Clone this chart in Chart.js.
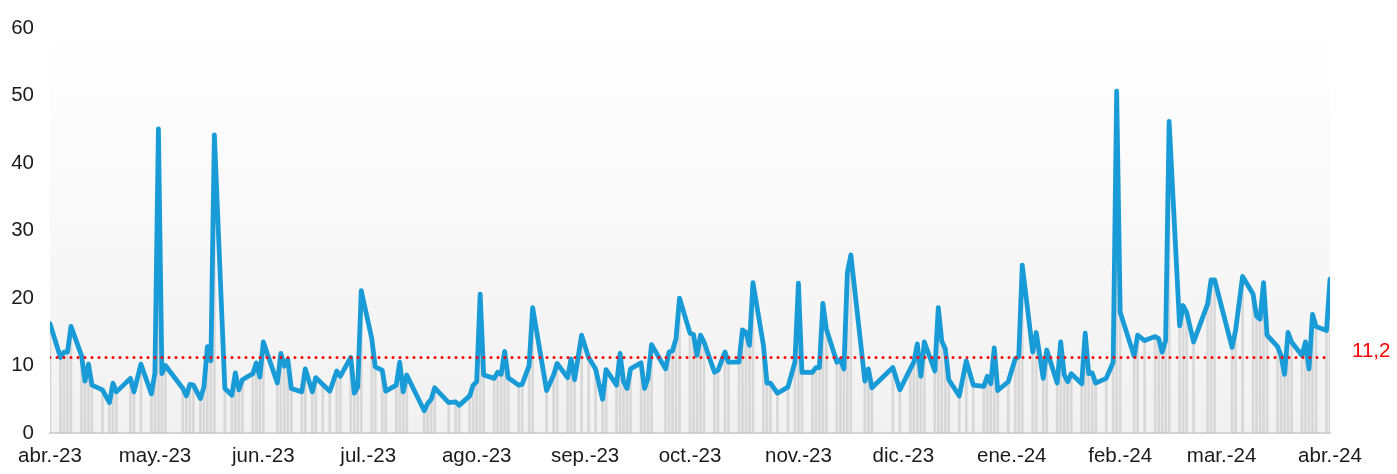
<!DOCTYPE html>
<html>
<head>
<meta charset="utf-8">
<script src="https://cdn.jsdelivr.net/npm/chart.js@4.4.1/dist/chart.umd.min.js"></script>
<style>
  html, body { margin: 0; padding: 0; background: #fff; }
  #wrap { width: 1397px; height: 474px; }
</style>
</head>
<body>
<div id="wrap"><canvas id="ourChart"></canvas></div>
<script>
// day number counted from 1 Apr 2023
var days = [0,3,4,5,6,9,10,11,12,15,
    17,18,19,23,24,26,29,30,31,32,
    33,38,39,40,41,43,44,45,46,47,
    50,52,53,54,55,58,59,60,61,65,
    66,67,68,69,72,73,75,76,78,80,
    82,83,86,87,88,89,92,93,95,96,
    99,100,101,102,107,108,109,110,114,116,
    117,120,121,122,123,124,127,128,129,130,
    131,134,135,137,138,142,144,145,148,149,
    150,152,154,156,158,159,162,163,164,165,
    166,169,170,171,172,176,177,178,179,180,
    183,184,185,186,187,190,191,193,194,197,
    198,199,200,201,204,205,206,208,211,213,
    214,215,218,219,220,221,222,225,226,227,
    228,229,233,234,235,241,243,246,247,248,
    249,250,253,254,255,256,257,260,262,264,
    267,268,269,270,271,274,276,277,278,281,
    282,284,285,288,289,290,291,292,295,296,
    297,298,299,302,304,305,306,310,311,313,
    316,317,318,319,320,323,324,325,327,331,
    332,333,338,339,341,344,345,346,347,348,
    351,352,353,354,355,358,359,360,361,362,
    365,366];

var values = [16.2,11.2,12.0,12.0,15.8,11.5,7.7,10.2,7.1,6.4,
    4.5,7.4,6.1,8.1,6.1,10.2,5.8,8.9,45.1,8.8,
    10.0,6.6,5.5,7.2,7.1,5.1,6.8,12.8,10.7,44.2,
    6.6,5.6,8.9,6.4,7.9,8.8,10.4,8.3,13.5,7.4,
    11.8,9.9,10.9,6.6,6.1,9.5,6.1,8.2,7.2,6.2,
    9.2,8.4,11.2,5.9,6.8,21.1,14.0,9.8,9.3,6.2,
    7.1,10.5,6.1,8.6,3.3,4.4,5.0,6.7,4.5,4.6,
    4.1,5.5,7.1,7.6,20.6,8.6,8.1,9.0,8.7,12.1,
    8.2,7.1,7.2,10.0,18.6,6.3,8.6,10.3,8.2,11.0,
    7.9,14.5,11.2,9.5,5.0,9.4,7.1,11.8,7.6,6.6,
    9.5,10.4,6.6,8.1,13.1,9.5,12.0,12.2,14.0,20.0,
    14.8,14.6,11.5,14.5,13.5,9.0,9.3,12.0,10.5,10.5,
    15.3,14.9,13.0,22.3,13.0,7.4,7.4,5.9,6.8,10.5,
    22.2,9.0,9.0,9.7,9.7,19.2,15.4,10.5,10.9,9.5,
    23.8,26.4,7.7,9.5,6.7,9.7,6.4,9.5,10.5,13.2,
    8.4,13.5,9.2,18.6,13.6,12.5,7.9,5.5,10.7,7.1,
    6.9,8.4,7.3,12.6,6.3,7.6,11.0,11.3,24.9,12.0,
    14.9,8.1,12.3,7.4,13.5,8.6,7.6,8.8,7.3,14.8,
    8.8,8.9,7.4,8.1,10.5,50.7,17.9,11.4,14.5,13.7,
    14.3,14.0,12.0,13.7,46.2,15.9,18.9,17.9,13.5,19.1,
    22.7,22.7,12.7,15.2,23.2,20.6,17.3,16.9,22.3,14.5,
    12.8,11.5,8.7,14.9,13.5,11.5,13.5,9.5,17.6,15.8,
    15.2,22.8];

var average = 11.2;

var monthDays = [0, 30, 61, 91, 122, 153, 183, 214, 244, 275, 306, 335, 366];
var monthLabels = ['abr.-23', 'may.-23', 'jun.-23', 'jul.-23', 'ago.-23', 'sep.-23', 'oct.-23',
    'nov.-23', 'dic.-23', 'ene.-24', 'feb.-24', 'mar.-24', 'abr.-24'];

var points = days.map(function (d, i) { return { x: d, y: values[i] }; });

Chart.defaults.font.family = '"Liberation Sans", Arial, sans-serif';
Chart.defaults.font.size = 20.5;
Chart.defaults.color = '#1a1a1a';

var backgroundPlugin = {
    id: 'plotBackground',
    beforeDraw: function (chart) {
        var a = chart.chartArea, ctx = chart.ctx;
        var g = ctx.createLinearGradient(0, a.top, 0, a.bottom);
        g.addColorStop(0, '#ffffff');
        g.addColorStop(1, '#f1f1f1');
        ctx.save();
        ctx.fillStyle = g;
        ctx.fillRect(a.left, a.top, a.right - a.left, a.bottom - a.top);
        ctx.restore();
    }
};

var averageLabel = {
    id: 'averageLabel',
    afterDraw: function (chart) {
        var y = chart.scales.y.getPixelForValue(average);
        var ctx = chart.ctx;
        ctx.save();
        ctx.fillStyle = '#ff0000';
        ctx.font = '20.5px "Liberation Sans", Arial, sans-serif';
        ctx.textBaseline = 'alphabetic';
        ctx.textAlign = 'left';
        ctx.fillText(String(average).replace('.', ','), chart.chartArea.right + 22, y);
        ctx.restore();
    }
};

var ourCanvas = document.getElementById('ourChart');

var chartElement = new Chart(ourCanvas, {
    type: 'line',
    data: {
        datasets: [
            {
                type: 'line',
                label: 'media',
                data: [{ x: 0, y: average }, { x: 366, y: average }],
                borderColor: '#ff0000',
                borderWidth: 3,
                borderDash: [0, 7],
                borderCapStyle: 'round',
                pointRadius: 0,
                order: 0
            },
            {
                type: 'line',
                label: 'valor',
                data: points,
                borderColor: '#189bd7',
                borderWidth: 4.8,
                borderJoinStyle: 'round',
                borderCapStyle: 'round',
                pointRadius: 0,
                tension: 0,
                order: 1
            },
            {
                type: 'bar',
                label: 'barras',
                data: points,
                backgroundColor: 'rgba(190, 190, 190, 0.5)',
                barThickness: 2,
                order: 2
            }
        ]
    },
    options: {
        responsive: true,
        maintainAspectRatio: false,
        animation: false,
        layout: { padding: { left: 0, right: 67, top: 26, bottom: 0 } },
        plugins: {
            legend: { display: false },
            tooltip: { enabled: false }
        },
        scales: {
            x: {
                type: 'linear',
                offset: false,
                min: 0,
                max: 366,
                grid: { display: false, drawTicks: false },
                border: { display: true, color: '#d4d4d4', width: 2 },
                afterBuildTicks: function (scale) {
                    scale.ticks = monthDays.map(function (d) { return { value: d }; });
                },
                afterFit: function (scale) { scale.height = 41; },
                ticks: {
                    autoSkip: false,
                    maxRotation: 0,
                    padding: 11,
                    callback: function (value) {
                        return monthLabels[monthDays.indexOf(value)];
                    }
                }
            },
            y: {
                min: 0,
                max: 60,
                grid: { display: false, drawTicks: false },
                border: { display: false },
                afterFit: function (scale) { scale.width = 50; },
                ticks: { stepSize: 10, padding: 16 }
            }
        }
    },
    plugins: [backgroundPlugin, averageLabel]
});
</script>
</body>
</html>
